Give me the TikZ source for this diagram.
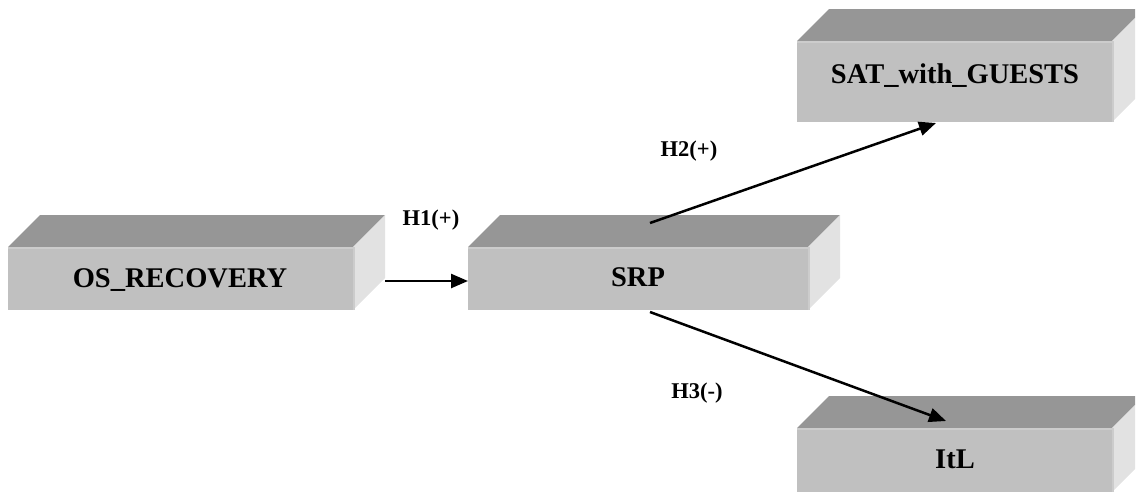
\documentclass[tikz,border=0pt]{standalone}
\usepackage{fontspec}
\setmainfont{Liberation Serif}
\usetikzlibrary{arrows.meta}
\definecolor{boxtop}{HTML}{969696}
\definecolor{boxfront}{HTML}{C0C0C0}
\definecolor{boxside}{HTML}{E2E2E2}
\definecolor{boxedge}{HTML}{CCCCCC}
\tikzset{
  frontface/.style={fill=boxfront, draw=none, inner sep=0pt, outer sep=0pt},
  topface/.style={fill=boxtop, draw=none},
  sideface/.style={fill=boxside, draw=none},
  edgeline/.style={draw=boxedge, line width=1.5pt},
  boxtext/.style={font=\bfseries\fontsize{28.5}{30}\selectfont, anchor=base, inner sep=0pt},
  lbltext/.style={font=\bfseries\fontsize{22.5}{24}\selectfont, anchor=base, inner sep=0pt},
  arr/.style={line width=2.5pt, -{Triangle[length=17pt,width=14pt]}}
}
% #1 name, #2 x0, #3 y0, #4 x1, #5 y1 (front face), depth 32
\newcommand\cubebox[5]{%
  \fill[topface] (#2,#3) -- (#2+32,#3-32) -- (#4+32,#3-32) -- (#4,#3) -- cycle;
  \fill[sideface] (#4,#3) -- (#4+32,#3-32) -- (#4+32,#5-32) -- (#4,#5) -- cycle;
  \node[frontface, minimum width=#4-#2, minimum height=#5-#3] (#1) at ({(#2+#4)/2},{(#3+#5)/2}) {};
  \draw[edgeline] (#2,#3+0.75) -- (#4,#3+0.75);
  \draw[edgeline] (#4+0.75,#3) -- (#4+0.75,#5);
}
\begin{document}
\begin{tikzpicture}[x=1pt,y=-1pt]
\useasboundingbox (0,0) rectangle (1139,493);
\begin{scope}
\clip (0,0) rectangle (1135,493);
\cubebox{os}{8}{247}{353}{310}
\cubebox{srp}{468}{247}{808}{310}
\cubebox{sat}{797}{41}{1112}{122}
\cubebox{itl}{797}{428}{1112}{492}
\end{scope}

\node[boxtext] (ostxt) at (180,287) {OS\_RECOVERY};
\node[boxtext] (srptxt) at (638,286.7) {SRP};
\node[boxtext] (sattxt) at (955,83.3) {SAT\_with\_GUESTS};
\node[boxtext] (itltxt) at (955,468) {ItL};

\coordinate (h1s) at (385,281);
\coordinate (h1e) at (468,281);
\coordinate (h2s) at (650,223);
\coordinate (h2e) at (936,123);
\coordinate (h3s) at (650,312);
\coordinate (h3e) at (946,421);

\draw[arr] (h1s) -- (h1e);
\draw[arr] (h2s) -- (h2e);
\draw[arr] (h3s) -- (h3e);

\node[lbltext] (l1) at (431,225) {H1(+)};
\node[lbltext] (l2) at (689,156.7) {H2(+)};
\node[lbltext] (l3) at (697,398) {H3(-)};
\end{tikzpicture}
\end{document}
